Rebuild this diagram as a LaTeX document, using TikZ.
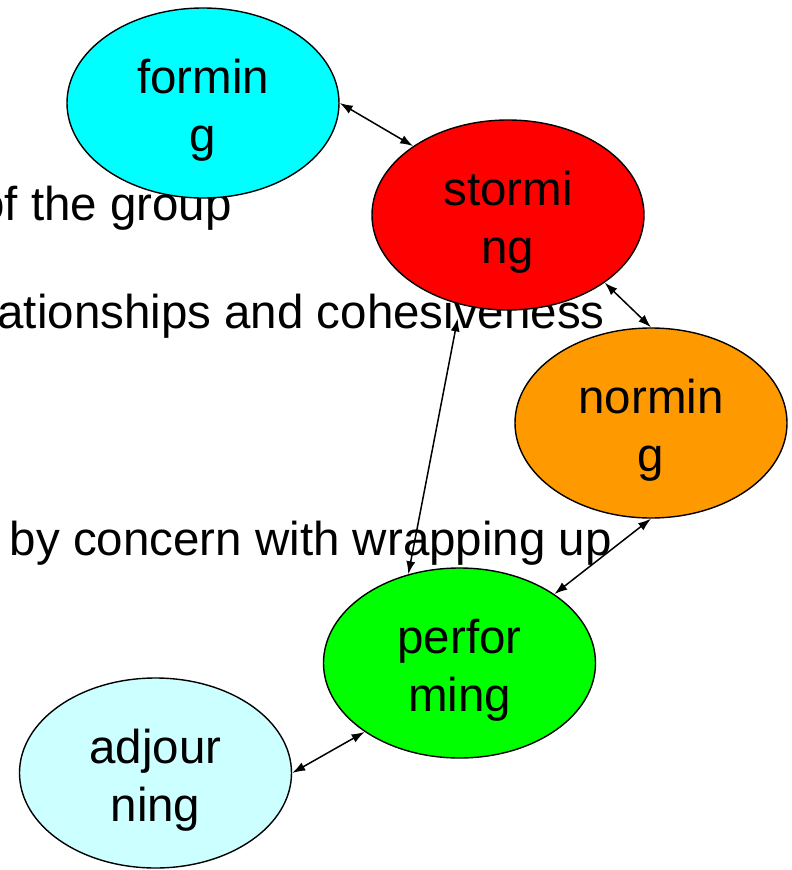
\documentclass[tikz,border=0pt]{standalone}
\usepackage{fontspec}
\setmainfont{Liberation Sans}
\usetikzlibrary{shapes.geometric}
\usetikzlibrary{arrows.meta}

\definecolor{formcol}{RGB}{0,255,255}
\definecolor{stormcol}{RGB}{255,0,0}
\definecolor{normcol}{RGB}{255,153,0}
\definecolor{perfcol}{RGB}{0,255,0}
\definecolor{adjcol}{RGB}{204,255,255}

\begin{document}
\begin{tikzpicture}[x=1pt,y=-1pt,
  stage/.style={ellipse,draw=black,line width=1.4pt,minimum width=272pt,minimum height=190pt,inner sep=0pt},
  stagetext/.style={inner sep=0pt,align=center,yshift=-7pt,font=\fontsize{47.5}{58}\selectfont},
  link/.style={line width=1.5pt,{Latex[length=13pt,width=9pt]}-{Latex[length=13pt,width=9pt]}},
  backtext/.style={anchor=base east,inner sep=0pt,font=\fontsize{47.5}{58}\selectfont}]
  \useasboundingbox (0,0) rectangle (792,870);
  \clip (0,0) rectangle (792,870);

  % slide text behind the stages
  \node[backtext] (line1) at (232,220) {of the group};
  \node[backtext] (line2) at (605,328) {ationships and cohesiveness};
  \node[backtext] (line3) at (612,555) {by concern with wrapping up};

  % stages
  \node[stage,fill=formcol] (forming) at (203,103) {};
  \node[stage,fill=stormcol] (storming) at (508,215) {};
  \node[stage,fill=normcol] (norming) at (651,423) {};
  \node[stage,fill=perfcol] (performing) at (459.5,663) {};
  \node[stage,fill=adjcol] (adjourning) at (155.5,773) {};

  \node[stagetext] (forming-t) at (forming) {formin\\g};
  \node[stagetext] (storming-t) at (storming) {stormi\\ng};
  \node[stagetext] (norming-t) at (norming) {normin\\g};
  \node[stagetext] (performing-t) at (performing) {perfor\\ming};
  \node[stagetext] (adjourning-t) at (adjourning) {adjour\\ning};

  % links
  \draw[link] (forming.0) -- (storming.144);
  \draw[link] (storming.-35) -- (norming.north);
  \draw[link,shorten <=14pt] (storming.-118) -- (performing.120);
  \draw[link] (norming.south) -- (performing.36);
  \draw[link] (performing.-144) -- (adjourning.east);
\end{tikzpicture}
\end{document}
